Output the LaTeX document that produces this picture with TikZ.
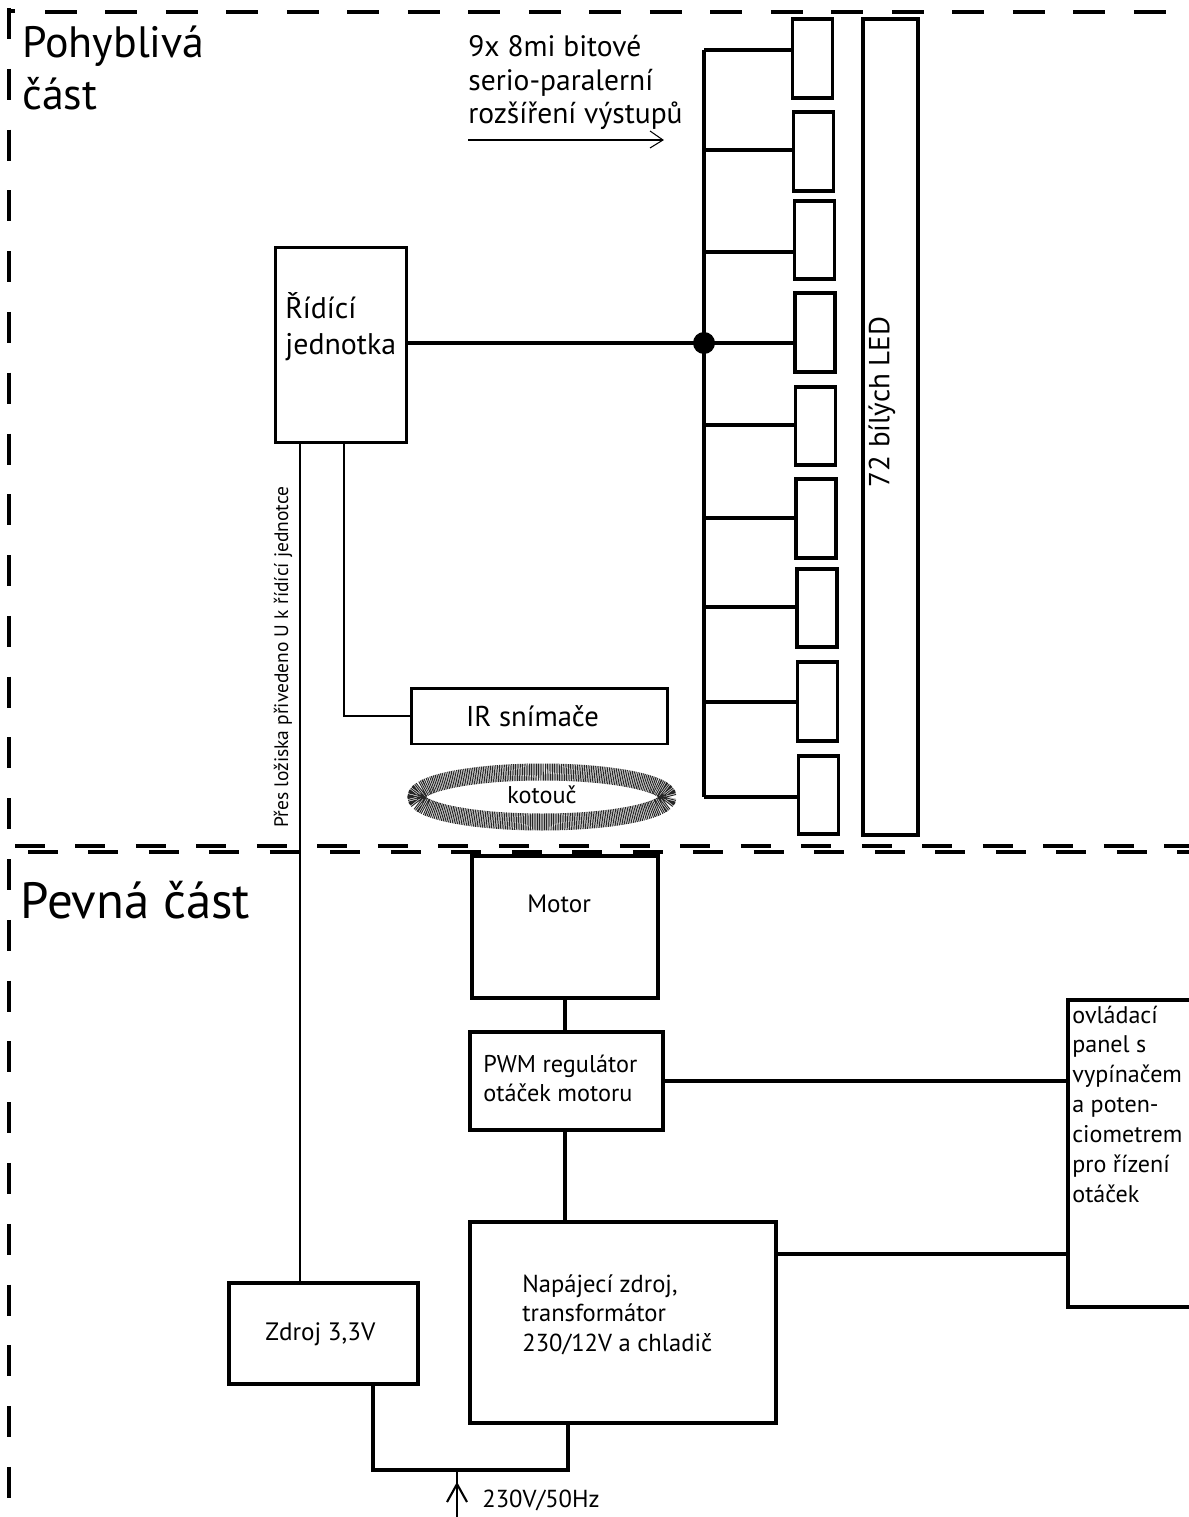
\documentclass[tikz,border=0pt]{standalone}
\usepackage{fontspec}
\setmainfont{PT Sans}
\usetikzlibrary{calc}
\newcommand\rowsT[1]{\begin{tabular}[t]{@{}l@{}}#1\end{tabular}}
\begin{document}
\begin{tikzpicture}[x=0.02cm,y=-0.02cm,
  box/.style={draw, rectangle, line width=2.1pt, inner sep=0pt},
  thinbox/.style={draw, rectangle, line width=1.7pt, inner sep=0pt},
  wire/.style={line width=2.1pt},
  lbl/.style={inner sep=0pt, anchor=base west},
  fbody/.style={font=\fontsize{14}{17}\selectfont},
]
\useasboundingbox (0,0) rectangle (1189,1517);

% ---- dashed section borders
\draw[line width=2.8pt, dash pattern=on 0.64cm off 0.57cm] (45,12) -- (1189,12);
\draw[line width=2.4pt, dash pattern=on 0.62cm off 0.596cm] (9,8) -- (9,1517);
\draw[line width=2.2pt] (8,11) -- (15,11);
\draw[line width=1.9pt, dash pattern=on 0.6cm off 0.61cm] (15,846) -- (1189,846);
\draw[line width=1.9pt, dash pattern=on 0.6cm off 0.61cm] (28,852) -- (1189,852);

% ---- section titles
\node[lbl, font=\fontsize{25}{29.5}\selectfont] (tmove) at (22,58) {\rowsT{Pohyblivá\\část}};
\node[lbl, font=\fontsize{29}{32}\selectfont] (tfix) at (20,918) {Pevná část};

% ---- moving part
\node[thinbox, minimum width=2.64cm, minimum height=3.92cm] (ridici) at (341,345) {};
\node[lbl, font=\fontsize{17}{21}\selectfont] (ridicit) at (285,318) {\rowsT{Řídící\\jednotka}};

\node[lbl, font=\fontsize{16.8}{18.8}\selectfont] (sptext) at (468,57) {\rowsT{9x 8mi bitové\\serio-paralerní\\rozšíření výstupů}};
\coordinate (sa) at (468,140);
\coordinate (se) at (663,140);
\draw[line width=0.6pt] (sa) -- (se);
\draw[line width=0.6pt] (650,131) -- (se) -- (650,148);

% shift registers
\foreach \i/\cx/\cy in {1/812.5/58.5, 2/813.5/151.5, 3/814.5/240, 4/815/332.5, 5/815.5/426,
                         6/816/518.5, 7/817/608, 8/817.5/701.5, 9/818.5/795} {
  \node[box, minimum width=0.8cm, minimum height=1.57cm] (sr\i) at (\cx,\cy) {};
}
\foreach \i/\by in {1/50, 2/150, 3/252, 4/343, 5/425, 6/518, 7/607, 8/702, 9/797} {
  \coordinate (b\i) at (704,\by);
  \draw[wire] (b\i) -- (b\i -| sr\i.west);
}
\draw[line width=2.4pt] (b1) -- (b9);
\draw[wire] (ridici.east |- b4) -- (b4);
\fill (b4) circle[radius=0.22cm];

\node[box, minimum width=1.1cm, minimum height=16.32cm] (led) at (890.5,427) {};
\node[rotate=90, inner sep=0pt, font=\fontsize{16.5}{18}\selectfont] (ledt) at (882,402) {72 bílých LED};

\coordinate (pv) at (300,0);
\coordinate (irv) at (344,0);
\node[thinbox, minimum width=5.14cm, minimum height=1.12cm, font=\fontsize{16.3}{18}\selectfont] (ir) at (539.5,716) {\hspace*{-8pt}IR snímače};
\draw[line width=1.2pt] (ridici.south -| irv) |- (ir.west);

\node[rotate=90, inner sep=0pt, font=\fontsize{11.1}{13}\selectfont] (loz) at (283,657) {Přes ložiska přivedeno U k řídící jednotce};

\draw[line width=0.34cm, black!85, dash pattern=on 0.55pt off 0.45pt] (542,797) ellipse[x radius=2.52cm, y radius=0.5cm];
\node[inner sep=0pt, font=\fontsize{13.8}{16}\selectfont] (disc) at (542,795) {kotouč};

% ---- fixed part
\node[box, line width=2.4pt, minimum width=3.72cm, minimum height=2.84cm] (motor) at (565,927) {};
\node[lbl, font=\fontsize{14.3}{17}\selectfont] (motort) at (527,912) {Motor};

\node[box, minimum width=3.86cm, minimum height=1.96cm] (pwm) at (566.5,1081) {};
\node[lbl, font=\fontsize{13.8}{16.5}\selectfont] (pwmt) at (483,1072) {\rowsT{PWM regulátor\\otáček motoru}};

\node[box, minimum width=6.12cm, minimum height=4.02cm] (nap) at (623,1322.5) {};
\node[lbl, fbody] (napt) at (522,1292) {\rowsT{Napájecí zdroj,\\transformátor\\230/12V a chladič}};

\node[box, minimum width=2.64cm, minimum height=6.14cm] (panel) at (1134,1153.5) {};
\node[lbl, font=\fontsize{13.7}{17}\selectfont] (panelt) at (1072,1023) {\rowsT{ovládací\\panel s\\vypínačem\\a poten-\\ciometrem\\pro řízení\\otáček}};

\node[box, minimum width=3.78cm, minimum height=2.02cm] (zdroj) at (323.5,1333.5) {};
\node[lbl, font=\fontsize{14.3}{17}\selectfont] (zdrojt) at (265,1340) {Zdroj 3,3V};

\draw[line width=1.4pt] (ridici.south -| pv) -- (zdroj.north -| pv);

\draw[wire] (motor.south) -- (motor.south |- pwm.north);
\draw[wire] (pwm.east) -- (pwm.east -| panel.west);
\draw[wire] (pwm.south -| motor.south) -- (nap.north -| motor.south);
\coordinate (np) at (0,1254);
\draw[wire] (nap.east |- np) -- (panel.west |- np);

\coordinate (zb) at (373,1470);
\coordinate (nb) at (568,1470);
\draw[wire] (zdroj.south -| zb) -- (zb) -- (nb) -- (nap.south -| nb);

\coordinate (mains) at (457,1517);
\coordinate (mt) at (457,1470);
\draw[line width=1.4pt] (mains) -- (mt);
\draw[line width=1.2pt] (447,1502) -- (457,1484) -- (467,1502);
\node[lbl, font=\fontsize{14}{17}\selectfont] (mainst) at (482,1507) {230V/50Hz};
\end{tikzpicture}
\end{document}
